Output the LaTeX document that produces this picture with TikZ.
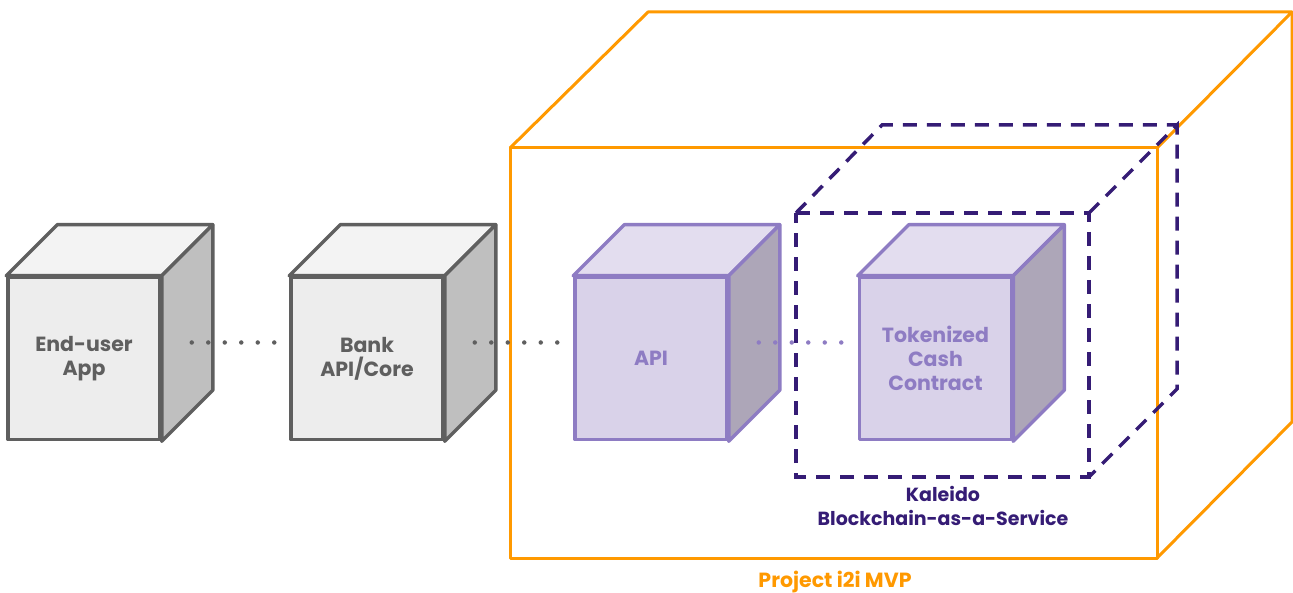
\documentclass[tikz,border=0pt]{standalone}
\usepackage{fontspec}
\setmainfont{Poppins}
\usetikzlibrary{calc}
\definecolor{greyline}{HTML}{5F5F5F}
\definecolor{greyfront}{HTML}{EDEDED}
\definecolor{greytop}{HTML}{F3F3F3}
\definecolor{greyside}{HTML}{BFBFBF}
\definecolor{purpline}{HTML}{8E7CC3}
\definecolor{purpfront}{HTML}{D9D2E9}
\definecolor{purptop}{HTML}{E3DDEF}
\definecolor{purpside}{HTML}{ADA6B8}
\definecolor{darkpurp}{HTML}{351C75}
\definecolor{mvporange}{HTML}{FF9900}
\tikzset{
  cubefront/.style={draw, line width=3.5pt, line join=round, minimum width=152pt,
    minimum height=162pt, inner sep=0pt, align=center,
    font=\fontsize{20.5}{24}\selectfont\bfseries},
  greycube/.style={cubefront, draw=greyline, fill=greyfront, text=greyline},
  purpcube/.style={cubefront, draw=purpline, fill=purpfront, text=purpline},
  face/.style={line width=3.5pt, line join=round},
  dots/.style={line width=4.5pt, line cap=round, dash pattern=on 0pt off 16.5pt},
  orangeedge/.style={draw=mvporange, line width=3pt, line join=round},
  kaleidoedge/.style={draw=darkpurp, line width=3.5pt, dash pattern=on 14pt off 10pt},
  caption/.style={font=\fontsize{20.5}{24}\selectfont\bfseries, align=center}
}
\begin{document}
\begin{tikzpicture}[x=1pt,y=-1pt]
\useasboundingbox (0,0) rectangle (1293,593);

% Project i2i MVP enclosure
\coordinate (mvpA) at (510,148);
\coordinate (mvpB) at (1157,148);
\coordinate (mvpC) at (1157,558);
\coordinate (mvpD) at (510,558);
\draw[orangeedge] (mvpA) -- (mvpB) -- (mvpC) -- (mvpD) -- cycle;
\draw[orangeedge] (mvpA) -- ++(138,-136) -- ($(mvpB)+(135,-136)$) -- (mvpB);
\draw[orangeedge] ($(mvpB)+(135,-136)$) -- ($(mvpC)+(135,-136)$) -- (mvpC);
\node[caption, text=mvporange] (mvplabel) at (835,582) {Project i2i MVP};

% Kaleido enclosure
\coordinate (kA) at (796,213);
\coordinate (kB) at (1089,213);
\coordinate (kC) at (1089,477);
\coordinate (kD) at (796,477);
\draw[kaleidoedge] (kA) -- (kB) -- (kC) -- (kD) -- cycle;
\draw[kaleidoedge] (kA) -- ++(86,-88) -- ($(kB)+(88,-88)$);
\draw[kaleidoedge] (kB) -- ($(kB)+(88,-88)$) -- ($(kC)+(88,-88)$) -- (kC);
\node[caption, text=darkpurp, font=\fontsize{19}{24}\selectfont\bfseries] (klabel) at (943,506) {Kaleido\\Blockchain-as-a-Service};

% cubes: front face as a node, top and side faces from its corners
\node[greycube] (enduser) at (84,358.5) {End-user\\App};
\node[greycube] (bank) at (367,358.5) {Bank\\API/Core};
\node[purpcube] (api) at (651,358.5) {API};
\node[purpcube] (token) at (935.5,358.5) {Tokenized\\Cash\\Contract};

\foreach \n/\c/\t/\s in {enduser/greyline/greytop/greyside, bank/greyline/greytop/greyside,
                          api/purpline/purptop/purpside, token/purpline/purptop/purpside}{
  \draw[face, draw=\c, fill=\t] (\n.north west) -- ++(51,-51) -- ($(\n.north east)+(51,-51)$) -- (\n.north east) -- cycle;
  \draw[face, draw=\c, fill=\s] (\n.north east) -- ++(51,-51) -- ($(\n.south east)+(51,-51)$) -- (\n.south east) -- cycle;
}

% dotted links
\draw[dots, draw=greyline] ($(enduser.east)+(30,-16)$) -- ($(bank.west)+(-5,-16)$);
\draw[dots, draw=greyline] ($(bank.east)+(30,-16)$) -- ($(api.west)+(-5,-16)$);
\draw[dots, draw=purpline] ($(api.east)+(30,-16)$) -- ($(token.west)+(-5,-16)$);
\end{tikzpicture}
\end{document}
